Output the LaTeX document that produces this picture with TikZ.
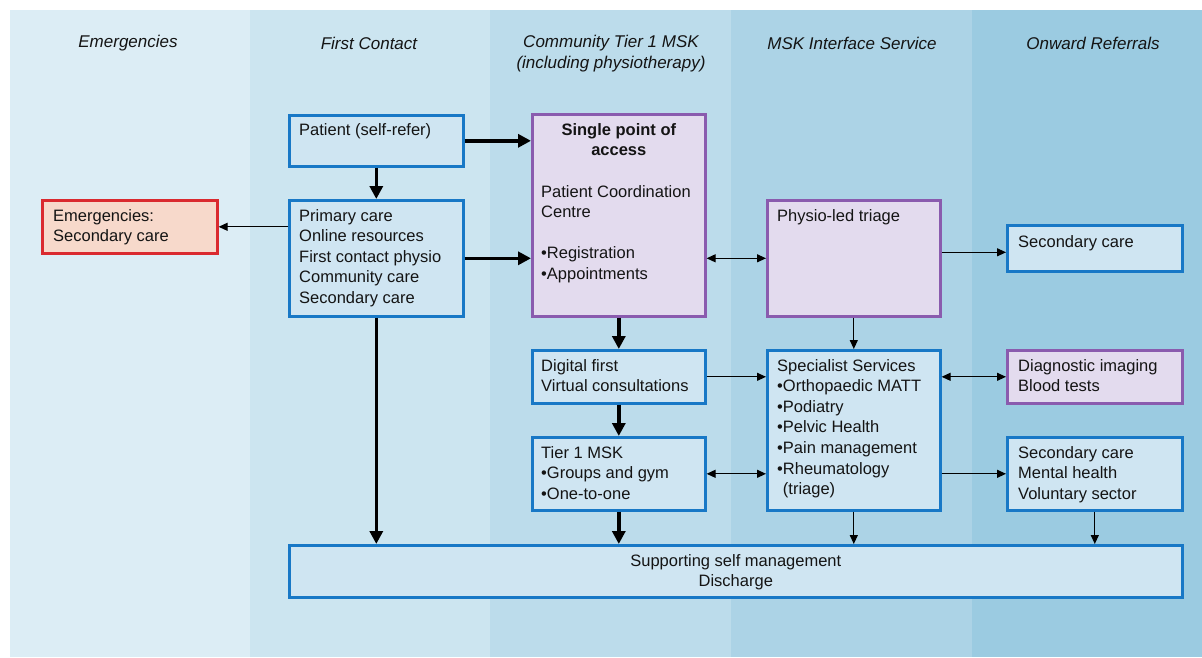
\documentclass[tikz,border=0pt]{standalone}
\usepackage{fontspec}
\setmainfont{Liberation Sans}
\usetikzlibrary{arrows.meta,calc}

\definecolor{bandA}{HTML}{DCEDF5}
\definecolor{bandB}{HTML}{CCE5F0}
\definecolor{bandC}{HTML}{BCDCEB}
\definecolor{bandD}{HTML}{ACD3E6}
\definecolor{bandE}{HTML}{9BCBE1}
\definecolor{boxfill}{HTML}{CFE5F2}
\definecolor{boxblue}{HTML}{1878C6}
\definecolor{lilac}{HTML}{E3DBEE}
\definecolor{purpleline}{HTML}{8A5BAE}
\definecolor{peach}{HTML}{F7D9CB}
\definecolor{redline}{HTML}{DA2A2F}
\definecolor{ink}{HTML}{141414}

\begin{document}
\begin{tikzpicture}[x=1pt,y=-1pt,
    every node/.style={font=\fontsize{16.5}{20.6}\selectfont,text=ink},
    box/.style={draw=boxblue,fill=boxfill,line width=2.6pt,anchor=north west,inner sep=0pt},
    purplebox/.style={box,draw=purpleline,fill=lilac},
    redbox/.style={box,draw=redline,fill=peach},
    txt/.style={anchor=north west,align=left,inner sep=0pt},
    head/.style={font=\fontsize{17}{20.6}\selectfont\itshape,align=center,inner sep=0pt},
    thickarr/.style={line width=3.6pt,-{Triangle[length=13pt,width=13pt]}},
    thinarr/.style={line width=1.2pt,-{Triangle[length=9pt,width=8pt]}},
    thinboth/.style={line width=1.2pt,{Triangle[length=9pt,width=8pt]}-{Triangle[length=9pt,width=8pt]}}]
    \useasboundingbox (0,0) rectangle (1202,657);

    % column bands
    \fill[bandA] (10,10) rectangle (250,657);
    \fill[bandB] (250,10) rectangle (490,657);
    \fill[bandC] (490,10) rectangle (731,657);
    \fill[bandD] (731,10) rectangle (972,657);
    \fill[bandE] (972,10) rectangle (1202,657);

    % column headings
    \node[head] (h-emerg) at (128,43) {Emergencies};
    \node[head] (h-first) at (369,43) {First Contact};
    \node[head] (h-comm) at (611,53.5) {Community Tier 1 MSK\\(including physiotherapy)};
    \node[head] (h-msk) at (852,43) {MSK Interface Service};
    \node[head] (h-onward) at (1093,43) {Onward Referrals};

    % boxes
    \node[box,minimum width=174pt,minimum height=51pt] (patient) at (288,114) {};
    \node[txt] (patient-t) at ($(patient.north west)+(11,9)$) {Patient (self-refer)};

    \node[box,minimum width=174pt,minimum height=116pt] (primary) at (288,199) {};
    \node[txt] (primary-t) at ($(primary.north west)+(11,10)$) {Primary care\\Online resources\\First contact physio\\Community care\\Secondary care};

    \node[redbox,minimum width=175pt,minimum height=53pt] (emerg) at (41,199) {};
    \node[txt] (emerg-t) at ($(emerg.north west)+(12,10)$) {Emergencies:\\Secondary care};

    \node[purplebox,minimum width=173pt,minimum height=202pt] (spa) at (531,113) {};
    \node[anchor=north,align=center,inner sep=0pt,font=\fontsize{16.5}{20.6}\selectfont\bfseries] (spa-h) at ($(spa.north)+(0,10)$) {Single point of\\access};
    \node[txt] (spa-t) at ($(spa.north west)+(10,72)$) {Patient Coordination\\Centre\\[20.6pt]•Registration\\•Appointments};

    \node[purplebox,minimum width=173pt,minimum height=116pt] (triage) at (766,199) {};
    \node[txt] (triage-t) at ($(triage.north west)+(11,10)$) {Physio-led triage};

    \node[box,minimum width=175pt,minimum height=46pt] (sec1) at (1006,224) {};
    \node[txt] (sec1-t) at ($(sec1.north west)+(12,11)$) {Secondary care};

    \node[box,minimum width=173pt,minimum height=53pt] (digital) at (531,349) {};
    \node[txt] (digital-t) at ($(digital.north west)+(10,10)$) {Digital first\\Virtual consultations};

    \node[box,minimum width=173pt,minimum height=73pt] (tier) at (531,436) {};
    \node[txt] (tier-t) at ($(tier.north west)+(10,10)$) {Tier 1 MSK\\•Groups and gym\\•One-to-one};

    \node[box,minimum width=173pt,minimum height=160pt] (spec) at (766,349) {};
    \node[txt] (spec-t) at ($(spec.north west)+(11,10)$) {Specialist Services\\•Orthopaedic MATT\\•Podiatry\\•Pelvic Health\\•Pain management\\•Rheumatology\\\phantom{•}(triage)};

    \node[purplebox,minimum width=175pt,minimum height=53pt] (diag) at (1006,349) {};
    \node[txt] (diag-t) at ($(diag.north west)+(12,10)$) {Diagnostic imaging\\Blood tests};

    \node[box,minimum width=175pt,minimum height=73pt] (sec2) at (1006,436) {};
    \node[txt] (sec2-t) at ($(sec2.north west)+(12,10)$) {Secondary care\\Mental health\\Voluntary sector};

    \node[box,minimum width=893pt,minimum height=52pt] (support) at (288,544) {};
    \node[anchor=north,align=center,inner sep=0pt] (support-t) at ($(support.north)+(0,10)$) {Supporting self management\\Discharge};

    % thick arrows
    \draw[thickarr] (patient.east) -- (patient.east -| spa.west);
    \draw[thickarr] (patient.south) -- (primary.north);
    \draw[thickarr] (primary.east) -- (primary.east -| spa.west);
    \draw[thickarr] (primary.south) -- (primary.south |- support.north);
    \draw[thickarr] (spa.south) -- (digital.north);
    \draw[thickarr] (digital.south) -- (tier.north);
    \draw[thickarr] (tier.south) -- (tier.south |- support.north);

    % thin arrows
    \draw[thinarr] (primary.west |- emerg.east) -- (emerg.east);
    \draw[thinboth] (triage.west -| spa.east) -- (triage.west);
    \draw[thinarr] ([yshift=-4pt]sec1.west -| triage.east) -- ([yshift=-4pt]sec1.west);
    \draw[thinarr] (triage.south) -- (spec.north);
    \draw[thinarr] (digital.east) -- (digital.east -| spec.west);
    \draw[thinboth] (tier.east) -- (tier.east -| spec.west);
    \draw[thinboth] (diag.west -| spec.east) -- (diag.west);
    \draw[thinarr] (sec2.west -| spec.east) -- (sec2.west);
    \draw[thinarr] (spec.south) -- (spec.south |- support.north);
    \draw[thinarr] (sec2.south) -- (sec2.south |- support.north);
\end{tikzpicture}
\end{document}
